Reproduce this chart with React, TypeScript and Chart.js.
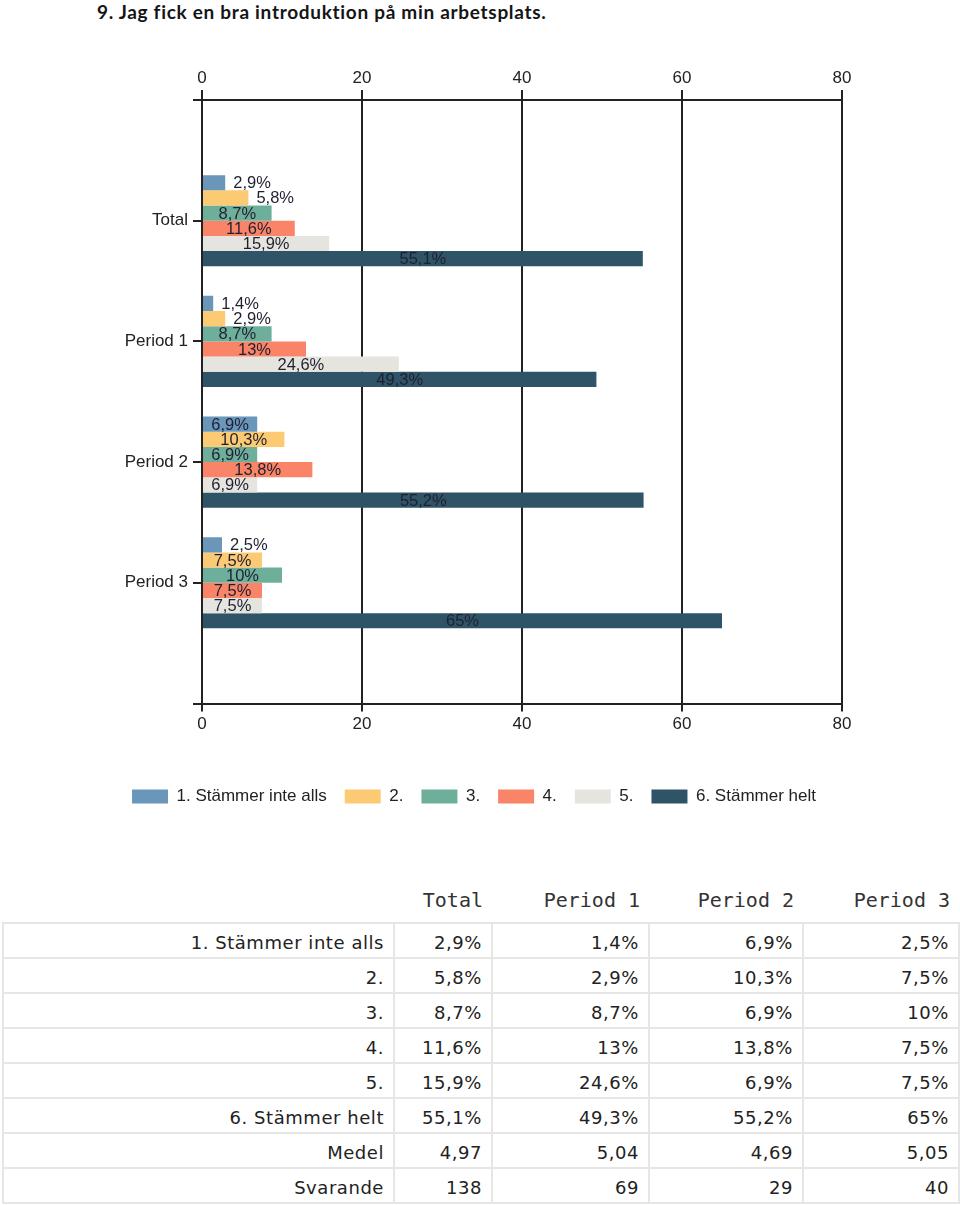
import React, { useEffect, useRef } from 'react';
import { Chart, registerables } from 'chart.js';

Chart.register(...registerables);

const TITLE = '9. Jag fick en bra introduktion på min arbetsplats.';
const GROUPS = ['Total', 'Period 1', 'Period 2', 'Period 3'];
const SERIES_NAMES = ['1. Stämmer inte alls', '2.', '3.', '4.', '5.', '6. Stämmer helt'];
const S1 = [2.9, 1.4, 6.9, 2.5];
const S2 = [5.8, 2.9, 10.3, 7.5];
const S3 = [8.7, 8.7, 6.9, 10];
const S4 = [11.6, 13, 13.8, 7.5];
const S5 = [15.9, 24.6, 6.9, 7.5];
const S6 = [55.1, 49.3, 55.2, 65];
const SERIES = [S1, S2, S3, S4, S5, S6];
const COLORS = ['#6a96ba', '#fdca74', '#6eaf9b', '#fa8468', '#e6e4de', '#2f5467'];
const X_MIN = 0;
const X_MAX = 80;
const X_STEP = 20;
const MEDEL = ['4,97', '5,04', '4,69', '5,05'];
const SVARANDE = ['138', '69', '29', '40'];

const fmt = (v: number) => String(v).replace('.', ',') + '%';
const SANS = '"Liberation Sans", Arial, sans-serif';

const barLabels = {
  id: 'barLabels',
  afterDatasetsDraw(chart: any) {
    const ctx = chart.ctx;
    ctx.save();
    ctx.font = `16.5px ${SANS}`;
    ctx.fillStyle = '#1e2030';
    ctx.textBaseline = 'middle';
    chart.data.datasets.forEach((ds: any, di: number) => {
      const meta = chart.getDatasetMeta(di);
      meta.data.forEach((bar: any, i: number) => {
        const v = ds.data[i];
        if (v == null) return;
        const text = fmt(v);
        const w = ctx.measureText(text).width;
        const { x, y, base } = bar.getProps(['x', 'y', 'base'], true);
        const bw = x - base;
        if (w + 10 > bw) {
          ctx.textAlign = 'left';
          ctx.fillText(text, x + 8, y + 1);
        } else {
          ctx.textAlign = 'center';
          ctx.fillText(text, (x + base) / 2, y + 1);
        }
      });
    });
    ctx.restore();
  },
};

function BarChart() {
  const ref = useRef<HTMLCanvasElement>(null);
  useEffect(() => {
    if (!ref.current) return;
    const labels = ['', ...GROUPS, ''];
    const chart = new Chart(ref.current, {
      type: 'bar',
      data: {
        labels,
        datasets: SERIES.map((s, i) => ({
          label: SERIES_NAMES[i],
          data: [null, ...s, null],
          backgroundColor: COLORS[i],
          borderWidth: 0,
          categoryPercentage: 0.755,
          barPercentage: 1,
          xAxisID: 'x',
          yAxisID: 'y',
        })),
      },
      options: {
        indexAxis: 'y',
        animation: false,
        responsive: false,
        maintainAspectRatio: false,
        layout: { padding: { left: 0, right: 12, top: 0, bottom: 0 } },
        plugins: {
          legend: {
            position: 'bottom',
            labels: {
              boxWidth: 36,
              boxHeight: 14,
              padding: 18,
              color: '#222',
              font: { size: 17, family: SANS },
            },
          },
          tooltip: { enabled: false },
          title: { display: false },
        },
        scales: {
          x: {
            position: 'bottom',
            min: X_MIN,
            max: X_MAX,
            ticks: { stepSize: X_STEP, color: '#222', font: { size: 17, family: SANS }, padding: 3 },
            grid: { color: '#222', lineWidth: 2, tickLength: 8 },
            border: { display: true, color: '#222', width: 2 },
            afterFit: (s: any) => { s.height = 66.5; },
          },
          x2: {
            type: 'linear',
            axis: 'x',
            position: 'top',
            min: X_MIN,
            max: X_MAX,
            ticks: { stepSize: X_STEP, color: '#222', font: { size: 17, family: SANS }, padding: 1 },
            grid: { drawOnChartArea: false, color: '#222', lineWidth: 2, tickLength: 10 },
            border: { display: true, color: '#222', width: 2 },
            afterFit: (s: any) => { s.height = 100; },
          },
          y: {
            type: 'category',
            position: 'left',
            offset: false,
            ticks: { color: '#222', font: { size: 17, family: SANS }, padding: 5, autoSkip: false },
            grid: { offset: false, drawOnChartArea: false, color: '#222', lineWidth: 2, tickLength: 9 },
            border: { display: true, color: '#222', width: 2 },
            afterFit: (s: any) => { s.width = 202; },
          },
          yR: {
            type: 'linear',
            axis: 'y',
            position: 'right',
            display: true,
            ticks: { display: false },
            grid: { display: false },
            border: { display: false },
            afterFit: (s: any) => { s.width = 106; },
          },
        },
      } as any,
      plugins: [barLabels],
    });
    return () => chart.destroy();
  }, []);
  return <canvas ref={ref} width={960} height={815} style={{ position: 'absolute', left: 0, top: 0, width: 960, height: 815 }} />;
}

const COL_W = [391, 98, 157, 154, 156];

export default function App() {
  const rows: string[][] = [
    ...SERIES.map((s, i) => [SERIES_NAMES[i], ...s.map(fmt)]),
    ['Medel', ...MEDEL],
    ['Svarande', ...SVARANDE],
  ];
  const cellBase: React.CSSProperties = {
    border: '2px solid #e6e6e6',
    textAlign: 'right',
    padding: '5px 9px 0 0',
    height: 30,
    fontFamily: '"DejaVu Sans", sans-serif',
    fontSize: 18,
    letterSpacing: 0.55,
    color: '#222',
    whiteSpace: 'nowrap',
    lineHeight: '20px',
    boxSizing: 'border-box',
  };
  return (
    <div style={{ position: 'absolute', left: 0, top: 0, width: 960, height: 1205, background: '#fff' }}>
      <div style={{ position: 'absolute', left: 97, top: 0, fontFamily: 'Lato, sans-serif', fontWeight: 700, fontSize: 19, letterSpacing: 0.7, color: '#151515', whiteSpace: 'nowrap' }}>{TITLE}</div>
      <BarChart />
      <table style={{ position: 'absolute', left: 2, top: 881, borderCollapse: 'collapse', tableLayout: 'fixed', width: 956 }}>
        <colgroup>
          {COL_W.map((w, i) => <col key={i} style={{ width: w }} />)}
        </colgroup>
        <thead>
          <tr style={{ height: 42 }}>
            <th style={{ border: 'none' }}></th>
            {GROUPS.map((g) => (
              <th key={g} style={{ border: 'none', textAlign: 'right', padding: '0 9px 4px 0', fontFamily: '"DejaVu Sans Mono", monospace', fontWeight: 400, fontSize: 20, color: '#333', verticalAlign: 'middle' }}>{g}</th>
            ))}
          </tr>
        </thead>
        <tbody>
          {rows.map((r, ri) => (
            <tr key={ri} style={{ height: 35 }}>
              {r.map((c, ci) => (
                <td key={ci} style={cellBase}>{c}</td>
              ))}
            </tr>
          ))}
        </tbody>
      </table>
    </div>
  );
}
